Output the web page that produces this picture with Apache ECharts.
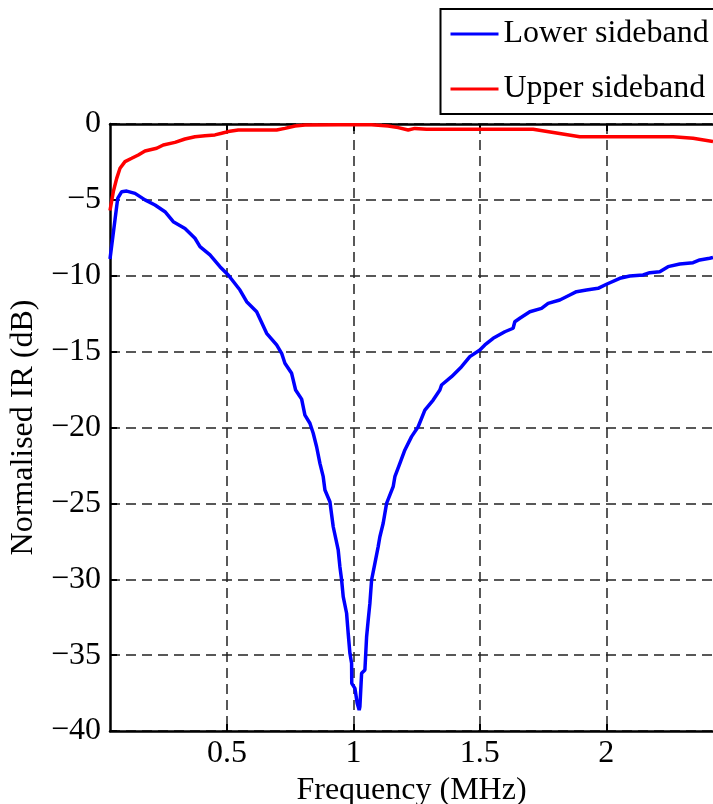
<!DOCTYPE html>
<html>
<head>
<meta charset="utf-8">
<script src="https://cdn.jsdelivr.net/npm/echarts@6/dist/echarts.min.js"></script>
<style>
html,body{margin:0;padding:0;background:#fff;overflow:hidden;}
#chart{width:713px;height:804px;}
</style>
</head>
<body>
<div id="chart"></div>
<script>
const seriesNames = ['Lower sideband', 'Upper sideband'];
const xTickValues = [0.5, 1, 1.5, 2];

const lowerFreq = [0.0375, 0.0573, 0.068, 0.0838, 0.1036, 0.1364, 0.1759, 0.2154, 0.2549, 0.2877, 0.334, 0.3735, 0.3933, 0.4328, 0.4723, 0.5051, 0.5514, 0.5779, 0.6174, 0.6569, 0.6964, 0.7162, 0.7292, 0.7557, 0.7715, 0.7953, 0.8083, 0.828, 0.8411, 0.8545, 0.8676, 0.8806, 0.8874, 0.9071, 0.9202, 0.9399, 0.9466, 0.9534, 0.9597, 0.9731, 0.9794, 0.9862, 0.9929, 0.9935, 1.006, 1.015, 1.0229, 1.0257, 1.0324, 1.0455, 1.0522, 1.0585, 1.0652, 1.0719, 1.085, 1.098, 1.1047, 1.1178, 1.1312, 1.1573, 1.164, 1.1838, 1.2036, 1.23, 1.2561, 1.2826, 1.3154, 1.3419, 1.3486, 1.3881, 1.4277, 1.4605, 1.5, 1.5198, 1.5526, 1.5988, 1.6316, 1.6383, 1.6581, 1.6976, 1.7439, 1.77, 1.8162, 1.8557, 1.8822, 1.9217, 1.9676, 2.0008, 2.0534, 2.0929, 2.1455, 2.1719, 2.2115, 2.2443, 2.2905, 2.3431, 2.3696, 2.4091, 2.422];
const lowerDb = [-8.9, -6.3, -4.9, -4.46, -4.42, -4.57, -5.0, -5.34, -5.78, -6.44, -6.88, -7.53, -8.08, -8.63, -9.4, -9.95, -10.94, -11.71, -12.37, -13.79, -14.56, -15.11, -15.77, -16.43, -17.53, -18.13, -19.18, -19.72, -20.38, -21.27, -22.36, -23.24, -24.12, -24.89, -26.54, -28.07, -29.17, -30.05, -31.15, -32.24, -33.56, -34.88, -35.54, -36.86, -37.19, -38.17, -38.62, -38.4, -36.2, -35.98, -33.79, -32.69, -31.59, -30.05, -28.95, -27.85, -27.2, -26.31, -25.0, -23.9, -23.24, -22.36, -21.48, -20.6, -19.95, -18.85, -18.19, -17.53, -17.2, -16.65, -15.99, -15.33, -14.89, -14.56, -14.12, -13.69, -13.46, -13.03, -12.8, -12.37, -12.15, -11.82, -11.6, -11.27, -11.05, -10.94, -10.83, -10.56, -10.17, -10.02, -9.95, -9.8, -9.73, -9.4, -9.23, -9.14, -8.96, -8.85, -8.8];

const upperFreq = [0.0375, 0.0506, 0.064, 0.0771, 0.0968, 0.1233, 0.1494, 0.1759, 0.2221, 0.2482, 0.2945, 0.334, 0.3735, 0.413, 0.4526, 0.479, 0.5051, 0.5447, 0.6372, 0.6964, 0.7292, 0.7688, 0.8083, 0.9399, 1.0719, 1.1375, 1.1771, 1.2166, 1.2431, 1.2893, 1.5, 1.7107, 1.8953, 2.0008, 2.264, 2.3431, 2.422];
const upperDb = [-5.7, -4.46, -3.58, -2.92, -2.48, -2.26, -2.04, -1.78, -1.6, -1.38, -1.21, -0.99, -0.84, -0.77, -0.72, -0.61, -0.5, -0.4, -0.4, -0.4, -0.29, -0.13, -0.07, -0.05, -0.05, -0.13, -0.24, -0.4, -0.29, -0.35, -0.35, -0.35, -0.84, -0.84, -0.84, -0.94, -1.16];

const xMin = 0.0375, xMax = 2.422;
const FONT = '"Liberation Serif", "Times New Roman", serif';
const FS = 32;

function pairs(xs, ys) { return xs.map((x, i) => [x, ys[i]]); }
function fmtNum(v) { return String(v).replace('-', '\u2212'); }

const chart = echarts.init(document.getElementById('chart'), null, {renderer: 'canvas', width: 713, height: 804});
const axisLineStyle = {color: '#000', width: 2.5};
const splitLineStyle = {color: '#222', width: 1.5, type: [10, 6]};

chart.setOption({
  animation: false,
  backgroundColor: '#fff',
  textStyle: {fontFamily: FONT},
  grid: {left: 110, top: 124, width: 603, height: 607, containLabel: false, outerBoundsMode: 'none'},
  legend: {
    data: seriesNames,
    orient: 'vertical',
    left: 440.5, top: 9,
    padding: [5, 40, 5, 10],
    itemGap: 15,
    itemWidth: 48, itemHeight: 3,
    icon: 'rect',
    backgroundColor: '#fff',
    borderColor: '#000', borderWidth: 2,
    textStyle: {fontFamily: FONT, fontSize: FS, color: '#000', lineHeight: 40, padding: [0, 0, 0, 0]},
    z: 10
  },
  xAxis: [{
    type: 'value', min: xMin, max: xMax, position: 'bottom',
    name: 'Frequency (MHz)', nameLocation: 'middle', nameGap: 34,
    nameTextStyle: {fontFamily: FONT, fontSize: FS, color: '#000'},
    axisLine: {show: true, onZero: false, lineStyle: axisLineStyle},
    axisTick: {show: true, inside: true, length: 7, customValues: xTickValues, lineStyle: {color: '#000', width: 2}},
    axisLabel: {customValues: xTickValues, fontFamily: FONT, fontSize: FS, color: '#000', margin: 7, formatter: v => fmtNum(v)},
    splitLine: {show: true, lineStyle: splitLineStyle}
  }, {
    type: 'value', min: xMin, max: xMax, position: 'top',
    axisLine: {show: true, onZero: false, lineStyle: axisLineStyle},
    axisTick: {show: true, inside: true, length: 7, customValues: xTickValues, lineStyle: {color: '#000', width: 2}},
    axisLabel: {show: false},
    splitLine: {show: false}
  }],
  yAxis: {
    type: 'value', min: -40, max: 0, interval: 5,
    name: 'Normalised IR (dB)', nameLocation: 'middle', nameGap: 60,
    nameTextStyle: {fontFamily: FONT, fontSize: FS, color: '#000'},
    axisLine: {show: true, onZero: false, lineStyle: axisLineStyle},
    axisTick: {show: true, inside: true, length: 7, lineStyle: {color: '#000', width: 2}},
    axisLabel: {fontFamily: FONT, fontSize: FS, color: '#000', margin: 9, formatter: v => fmtNum(v)},
    splitLine: {show: true, lineStyle: splitLineStyle}
  },
  series: [{
    name: seriesNames[0], type: 'line', xAxisIndex: 0,
    data: pairs(lowerFreq, lowerDb),
    showSymbol: false, symbol: 'none',
    lineStyle: {color: '#0000ff', width: 3.5},
    itemStyle: {color: '#0000ff'}
  }, {
    name: seriesNames[1], type: 'line', xAxisIndex: 0,
    data: pairs(upperFreq, upperDb),
    showSymbol: false, symbol: 'none',
    lineStyle: {color: '#ff0000', width: 3.5},
    itemStyle: {color: '#ff0000'}
  }]
});
</script>
</body>
</html>
